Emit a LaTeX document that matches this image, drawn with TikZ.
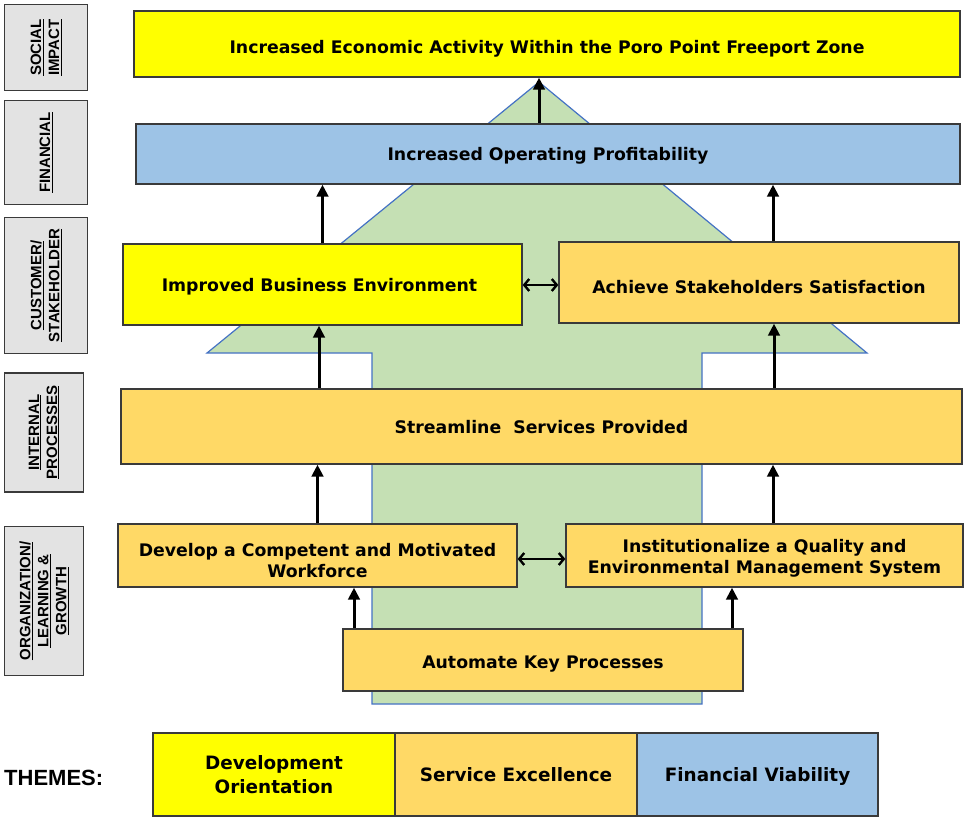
\documentclass[tikz,border=0pt]{standalone}
\usepackage{fontspec}
\setmainfont{DejaVu Sans}
\newfontfamily\lab{Liberation Sans}
\usetikzlibrary{arrows.meta}
\definecolor{cyel}{HTML}{FFFF00}
\definecolor{corg}{HTML}{FFD966}
\definecolor{cblu}{HTML}{9DC3E6}
\definecolor{cgrn}{HTML}{C5E0B4}
\definecolor{cgry}{HTML}{E3E3E3}
\definecolor{cedge}{HTML}{3A3A3A}
\definecolor{carrow}{HTML}{4472C4}
\begin{document}
\begin{tikzpicture}[x=1pt,y=-1pt,
 goalbox/.style={draw=cedge, line width=1.3pt, inner sep=0pt},
 goaltext/.style={inner sep=0pt, align=center, font=\fontsize{17.3}{21}\selectfont\bfseries},
 themetext/.style={inner sep=0pt, align=center, font=\fontsize{18.4}{24}\selectfont\bfseries},
 sidelabel/.style={draw=cedge, fill=cgry, line width=1.3pt, inner sep=0pt, align=center, rotate=90, font=\lab\fontsize{15}{18}\selectfont\bfseries},
 uparr/.style={line width=3pt, -{Triangle[length=12pt,width=11.5pt]}},
 twoarr/.style={line width=2.4pt, {Straight Barb[length=5pt,width=12pt]}-{Straight Barb[length=5pt,width=12pt]}},
]
\useasboundingbox (0,0) rectangle (966,817);

% big green arrow
\path[fill=cgrn, draw=carrow, line width=1.2pt] (539,82) -- (867,353) -- (702,353) -- (702,704) -- (372,704) -- (372,353) -- (207,353) -- cycle;

% side labels
\node[sidelabel, minimum width=86, minimum height=83] (l1) at (46,47.5) {\underline{SOCIAL}\\\underline{IMPACT}};
\node[sidelabel, minimum width=104, minimum height=83] (l2) at (46,152.5) {\underline{FINANCIAL}};
\node[sidelabel, minimum width=136, minimum height=83] (l3) at (46,285.5) {\underline{CUSTOMER/}\\\underline{STAKEHOLDER}};
\node[sidelabel, minimum width=119, minimum height=79] (l4) at (44,432.5) {\underline{INTERNAL}\\\underline{PROCESSES}};
\node[sidelabel, minimum width=149, minimum height=79] (l5) at (44,601) {\underline{ORGANIZATION/}\\\underline{LEARNING \&}\\\underline{GROWTH}};

% objective boxes
\node[goalbox, fill=cyel, minimum width=826, minimum height=66] (soc) at (547,44) {};
\node[goalbox, fill=cblu, minimum width=824, minimum height=60] (fin) at (548,154) {};
\node[goalbox, fill=cyel, minimum width=399, minimum height=81] (ibe) at (322.5,284.5) {};
\node[goalbox, fill=corg, minimum width=400, minimum height=81] (ass) at (759,282.5) {};
\node[goalbox, fill=corg, minimum width=841, minimum height=75] (ssp) at (541.5,426.5) {};
\node[goalbox, fill=corg, minimum width=399, minimum height=63] (dev) at (317.5,555.5) {};
\node[goalbox, fill=corg, minimum width=397, minimum height=63] (inst) at (764.5,555.5) {};
\node[goalbox, fill=corg, minimum width=400, minimum height=62] (auto) at (543,660) {};

% objective texts
\node[goaltext] (soct) at ([yshift=-5pt]soc.center) {Increased Economic Activity Within the Poro Point Freeport Zone};
\node[goaltext] (fint) at ([yshift=-1.5pt]fin.center) {Increased Operating Profitability};
\node[goaltext] (ibet) at ([xshift=-3pt,yshift=-2.5pt]ibe.center) {Improved Business Environment};
\node[goaltext] (asst) at ([yshift=-4.5pt]ass.center) {Achieve Stakeholders Satisfaction};
\node[goaltext] (sspt) at ([yshift=-1pt]ssp.center) {Streamline~ Services Provided};
\node[goaltext] (devt) at ([yshift=-5pt]dev.center) {Develop a Competent and Motivated\\Workforce};
\node[goaltext] (instt) at ([yshift=-3pt]inst.center) {Institutionalize a Quality and\\Environmental Management System};
\node[goaltext] (autot) at ([yshift=-4.5pt]auto.center) {Automate Key Processes};

% vertical arrows
\draw[uparr] ([xshift=-9pt]fin.north) -- ([xshift=-9pt]fin.north |- soc.south);
\draw[uparr] (ibe.north) -- (ibe.north |- fin.south);
\draw[uparr] ([xshift=14pt]ass.north) -- ([xshift=14pt]ass.north |- fin.south);
\draw[uparr] ([xshift=-3.5pt]ibe.south |- ssp.north) -- ([xshift=-3.5pt]ibe.south);
\draw[uparr] ([xshift=15pt]ass.south |- ssp.north) -- ([xshift=15pt]ass.south);
\draw[uparr] (dev.north) -- (dev.north |- ssp.south);
\draw[uparr] ([xshift=8.5pt]inst.north) -- ([xshift=8.5pt]inst.north |- ssp.south);
\draw[uparr] ([xshift=-189pt]auto.north) -- ([xshift=-189pt]auto.north |- dev.south);
\draw[uparr] ([xshift=189pt]auto.north) -- ([xshift=189pt]auto.north |- inst.south);

% horizontal double arrows
\draw[twoarr] ([yshift=-0.5pt]ibe.east) -- ([yshift=-0.5pt]ibe.east -| ass.west);
\draw[twoarr] ([yshift=-3.5pt]dev.east) -- ([yshift=-3.5pt]dev.east -| inst.west);

% themes
\node[anchor=west, inner sep=0pt, font=\lab\fontsize{22}{24}\selectfont\bfseries] (thm) at (4,778) {THEMES:};
\node[goalbox, fill=cyel, minimum width=242, minimum height=83] (t1) at (274,774.5) {};
\node[goalbox, fill=corg, minimum width=242, minimum height=83] (t2) at (516,774.5) {};
\node[goalbox, fill=cblu, minimum width=241, minimum height=83] (t3) at (757.5,774.5) {};
\node[themetext] (t1t) at (t1.center) {Development\\Orientation};
\node[themetext] (t2t) at (t2.center) {Service Excellence};
\node[themetext] (t3t) at ([yshift=-1.5pt]t3.center) {Financial Viability};
\end{tikzpicture}
\end{document}
